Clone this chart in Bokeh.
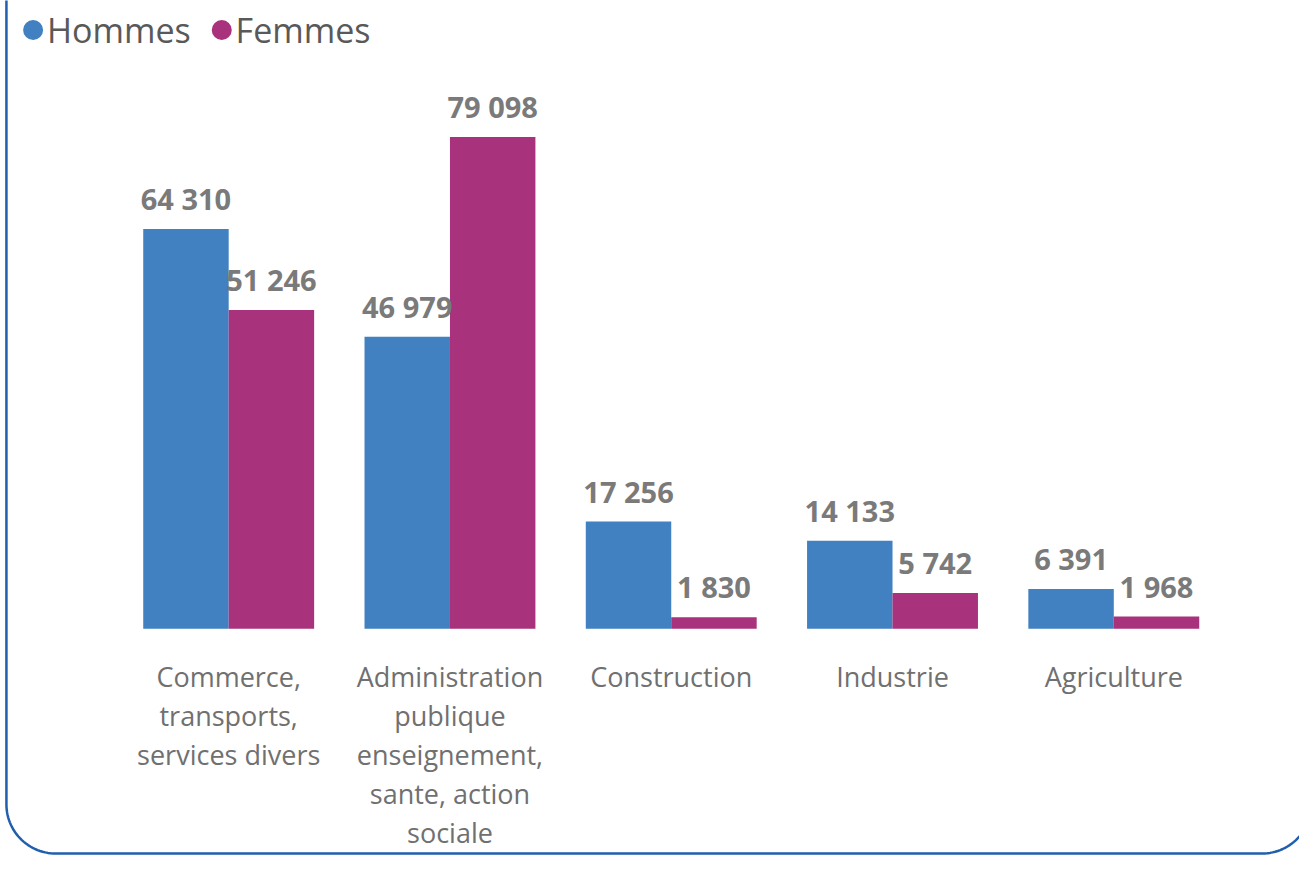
import numpy as np
from bokeh.plotting import figure
from bokeh.models import ColumnDataSource, Range1d
from bokeh.transform import dodge
from bokeh.core.properties import value
from bokeh.embed import file_html
from bokeh.resources import INLINE

categories = ["Commerce,\ntransports,\nservices divers",
              "Administration\npublique\nenseignement,\nsante, action\nsociale",
              "Construction", "Industrie", "Agriculture"]
hommes = [64310, 46979, 17256, 14133, 6391]
femmes = [51246, 79098, 1830, 5742, 1968]
series = ["Hommes", "Femmes"]
colors = ["#4180C1", "#A8327C"]

def fmt(v):
    return f"{v:,}".replace(",", " ")

W, H = 1299, 855
REF_W, REF_H = 1315, 871
STEP = 224.0
X0 = 231.0
BASE = 640.0
PXV = 501.0 / 79098.0  # px per unit

def rx(px):
    return (px - X0) / STEP

def ry(py):
    return (BASE - py) / PXV

sy = H / REF_H

p = figure(width=W, height=H, output_backend="svg", toolbar_location=None,
           x_range=Range1d(rx(0), rx(REF_W)), y_range=Range1d(ry(REF_H), ry(0)),
           x_axis_location=None, y_axis_location=None, min_border=0)
p.grid.visible = False
p.outline_line_color = None
p.background_fill_color = "white"
p.border_fill_color = "white"

idx = list(range(len(categories)))
src = ColumnDataSource(dict(idx=idx, cat=categories, hommes=hommes, femmes=femmes,
                            hl=[fmt(v) for v in hommes], fl=[fmt(v) for v in femmes]))
bw = 86.5 / STEP
off = bw / 2

p.vbar(x=dodge("idx", -off, range=p.x_range), top="hommes", width=bw, source=src,
       fill_color=colors[0], line_color=None)
p.vbar(x=dodge("idx", off, range=p.x_range), top="femmes", width=bw, source=src,
       fill_color=colors[1], line_color=None)

val_kw = dict(text_font=value("Open Sans"), text_font_size="29px", text_font_style="bold",
              text_color="#7a7a7a", text_align="center", text_baseline="alphabetic",
              y_offset=-31 * sy, source=src)
p.text(x=dodge("idx", -off, range=p.x_range), y="hommes", text="hl", **val_kw)
p.text(x=dodge("idx", off, range=p.x_range), y="femmes", text="fl", **val_kw)

# category labels below baseline
p.text(x="idx", y=0, text="cat", source=src, text_font=value("Open Sans"),
       text_font_size="27px", text_color="#707070", text_align="center",
       text_baseline="top", text_line_height=1.05, y_offset=30 * sy)

# legend
leg_x_dot = [rx(33), rx(224)]
leg_x_txt = [rx(47), rx(238)]
leg_y = ry(30)
p.scatter(x=leg_x_dot, y=[leg_y, leg_y], size=20, fill_color=colors, line_color=None)
p.text(x=leg_x_txt, y=[leg_y, leg_y], text=series, text_font=value("Open Sans"),
       text_font_size="34px", text_color="#595959", text_align="left",
       text_baseline="middle")

# rounded frame border (left, bottom, right corner)
r = 50.0
left_x, bot_y, right_x = 6.0, 869.0, 1327.0
t1 = np.linspace(np.pi, np.pi / 2, 30)
t2 = np.linspace(np.pi / 2, 0, 30)
bx = [left_x] + list(left_x + r + r * np.cos(t1)) + list(right_x - r + r * np.cos(t2)) + [right_x]
by = [-10.0] + list(bot_y - r + r * np.sin(t1)) + list(bot_y - r + r * np.sin(t2)) + [-10.0]
p.line(x=[rx(v) for v in bx], y=[ry(v) for v in by], line_color="#1F5FAE", line_width=2.5)

open("out.html", "w").write(file_html(p, INLINE))
